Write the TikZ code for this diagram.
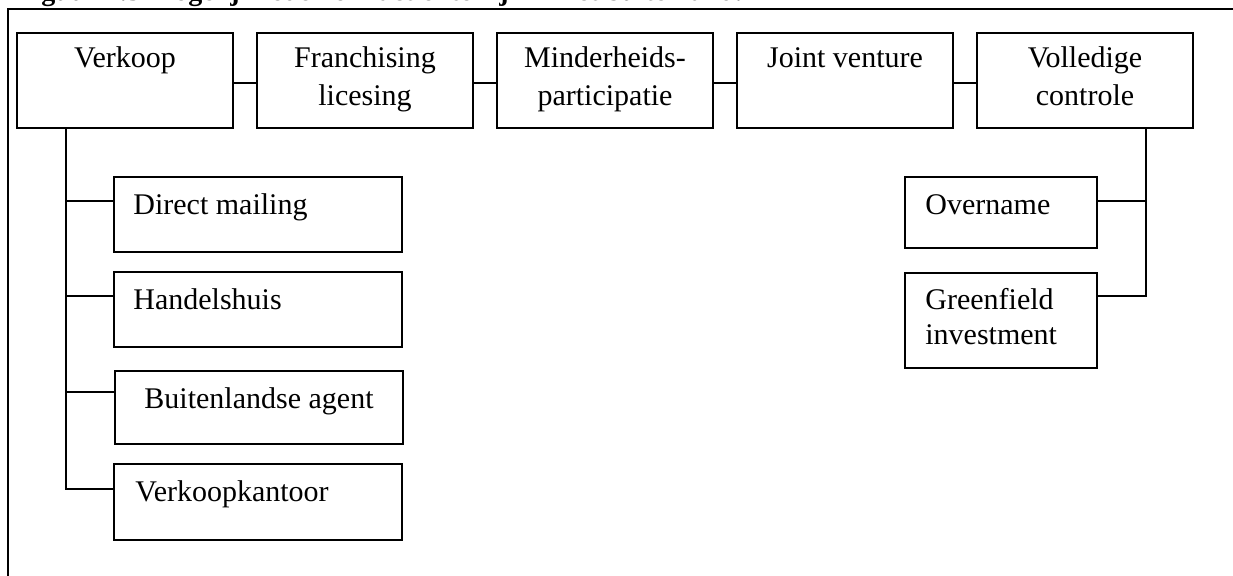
\documentclass[tikz,border=0pt]{standalone}
\usepackage{fontspec}
\setmainfont{Liberation Serif}
\usetikzlibrary{fit,calc}
\begin{document}
\begin{tikzpicture}[x=0.5pt,y=-0.5pt,
  box/.style={draw, line width=0.85pt, inner sep=0pt, outer sep=0pt},
  txt/.style={anchor=base, inner sep=0pt, font=\fontsize{15}{17}\selectfont},
  txtl/.style={anchor=base west, inner sep=0pt, font=\fontsize{15}{17}\selectfont},
  conn/.style={line width=0.85pt},
  frame/.style={line width=1.4pt}]
\useasboundingbox (0,0) rectangle (1233,576);
\clip (0,0) rectangle (1233,576);
% title (cut off at top)
\node[anchor=base west, inner sep=0pt, font=\fontsize{14}{16}\selectfont\bfseries] (title) at (16,0.5)
  {Figuur 2.5 Mogelijkheden om actief te zijn in het buitenland.};
% outer frame
\coordinate (fTR) at (1240,9);
\coordinate (fTL) at (8,9);
\coordinate (fBL) at (8,580);
\draw[frame] (fTR) -- (fTL) -- (fBL);
% top row
\node[box, fit={(17,33)(233,128)}] (verkoop) {};
\node[box, fit={(257,33)(473,128)}] (franch) {};
\node[box, fit={(497,33)(713,128)}] (minder) {};
\node[box, fit={(737,33)(953,128)}] (joint) {};
\node[box, fit={(977,33)(1193,128)}] (voll) {};
\node[txt] (tverkoop) at (125,68) {Verkoop};
\node[txt] (tfranch1) at (365,68) {Franchising};
\node[txt] (tfranch2) at (365,106) {licesing};
\node[txt] (tminder1) at (605,68) {Minderheids-};
\node[txt] (tminder2) at (605,106) {participatie};
\node[txt] (tjoint) at (845,68) {Joint venture};
\node[txt] (tvoll1) at (1085,68) {Volledige};
\node[txt] (tvoll2) at (1085,106) {controle};
\draw[conn] ([yshift=-1.25pt]verkoop.east) -- ([yshift=-1.25pt]franch.west);
\draw[conn] ([yshift=-1.25pt]franch.east) -- ([yshift=-1.25pt]minder.west);
\draw[conn] ([yshift=-1.25pt]minder.east) -- ([yshift=-1.25pt]joint.west);
\draw[conn] ([yshift=-1.25pt]joint.east) -- ([yshift=-1.25pt]voll.west);
% left column
\node[box, fit={(114,177)(402,252)}] (dm) {};
\node[box, fit={(114,272)(402,347)}] (hh) {};
\node[box, fit={(115,371)(403,444)}] (ba) {};
\node[box, fit={(114,464)(402,540)}] (vk) {};
\node[txtl] (tdm) at (133,215) {Direct mailing};
\node[txtl] (thh) at (133,310) {Handelshuis};
\node[txt] (tba) at (259,409) {Buitenlandse agent};
\node[txtl] (tvk) at (135,502) {Verkoopkantoor};
\coordinate (vx) at ($(verkoop.south west)+(49,0)$);
\coordinate (pdm) at ($(dm.north west)!0.32!(dm.south west)$);
\coordinate (phh) at ($(hh.north west)!0.32!(hh.south west)$);
\coordinate (pba) at ($(ba.north west)!0.29!(ba.south west)$);
\coordinate (pvk) at ($(vk.north west)!0.33!(vk.south west)$);
\draw[conn] (vx) |- (pvk);
\draw[conn] (pdm -| vx) -- (pdm);
\draw[conn] (phh -| vx) -- (phh);
\draw[conn] (pba -| vx) -- (pba);
% right column
\node[box, fit={(905,177)(1097,248)}] (ov) {};
\node[box, fit={(905,273)(1097,368)}] (gf) {};
\node[txtl] (tov) at (925,215) {Overname};
\node[txtl] (tgf1) at (925,310) {Greenfield};
\node[txtl] (tgf2) at (925,345) {investment};
\coordinate (rx) at ($(voll.south west)+(169,0)$);
\coordinate (pov) at ($(ov.north east)!0.34!(ov.south east)$);
\coordinate (pgf) at ($(gf.north east)!0.24!(gf.south east)$);
\draw[conn] (rx) |- (pgf);
\draw[conn] (pov) -- (pov -| rx);
\end{tikzpicture}
\end{document}
